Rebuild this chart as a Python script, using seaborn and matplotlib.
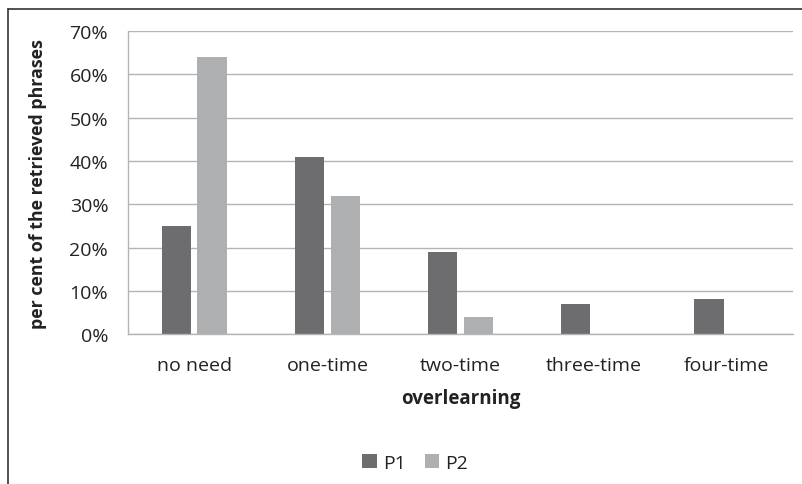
import numpy as np, pandas as pd
import seaborn as sns
import matplotlib.pyplot as plt
from matplotlib.lines import Line2D
from matplotlib.ticker import PercentFormatter

categories = ["no need", "one-time", "two-time", "three-time", "four-time"]
p1 = [25, 41, 19, 7, 8]
p2 = [64, 32, 4, 0, 0]

df = pd.DataFrame({
    "overlearning": categories * 2,
    "value": p1 + p2,
    "group": ["P1"] * len(categories) + ["P2"] * len(categories),
})

sns.set_style("white")
plt.rcParams["font.family"] = ["Open Sans", "DejaVu Sans"]

fig = plt.figure(figsize=(8.03, 4.85), dpi=100)
ax = fig.add_axes([0.159, 0.309, 0.829, 0.625])

sns.barplot(data=df, x="overlearning", y="value", hue="group",
            palette=["#6d6d6f", "#aeafb1"], width=0.54, gap=0.18,
            linewidth=0, ax=ax)

ax.set_ylim(0, 70)
ax.set_yticks(range(0, 71, 10))
ax.yaxis.set_major_formatter(PercentFormatter(decimals=0))
ax.grid(axis="y", color="#b4b4b4", linewidth=1)
ax.set_axisbelow(True)
for s in ["top", "right"]:
    ax.spines[s].set_visible(False)
for s in ["left", "bottom"]:
    ax.spines[s].set_color("#b4b4b4")
    ax.spines[s].set_linewidth(1)
ax.tick_params(axis="both", length=0, labelsize=14, colors="#222222")
ax.tick_params(axis="x", pad=16)
ax.tick_params(axis="y", pad=14)
ax.set_xlabel("overlearning", fontsize=13.5, fontweight="bold", color="#222222", labelpad=10)
ax.set_ylabel("per cent of the retrieved phrases", fontsize=12.8, fontweight="bold",
              color="#222222", labelpad=16)

leg = ax.legend(loc="center", bbox_to_anchor=(0.432, -0.425), ncol=2, frameon=False,
                fontsize=14, handlelength=0.75, handleheight=0.75, handletextpad=0.3,
                columnspacing=1.0)
for t in leg.get_texts():
    t.set_color("#222222")

# outer frame (left and top visible)
fig.add_artist(Line2D([8 / 803, 8 / 803], [0, 1 - 10 / 485], color="#333333", lw=1.2,
                      transform=fig.transFigure))
fig.add_artist(Line2D([8 / 803, 1], [1 - 10 / 485, 1 - 10 / 485], color="#333333", lw=1.2,
                      transform=fig.transFigure))

fig.savefig("out.png", dpi=100)
